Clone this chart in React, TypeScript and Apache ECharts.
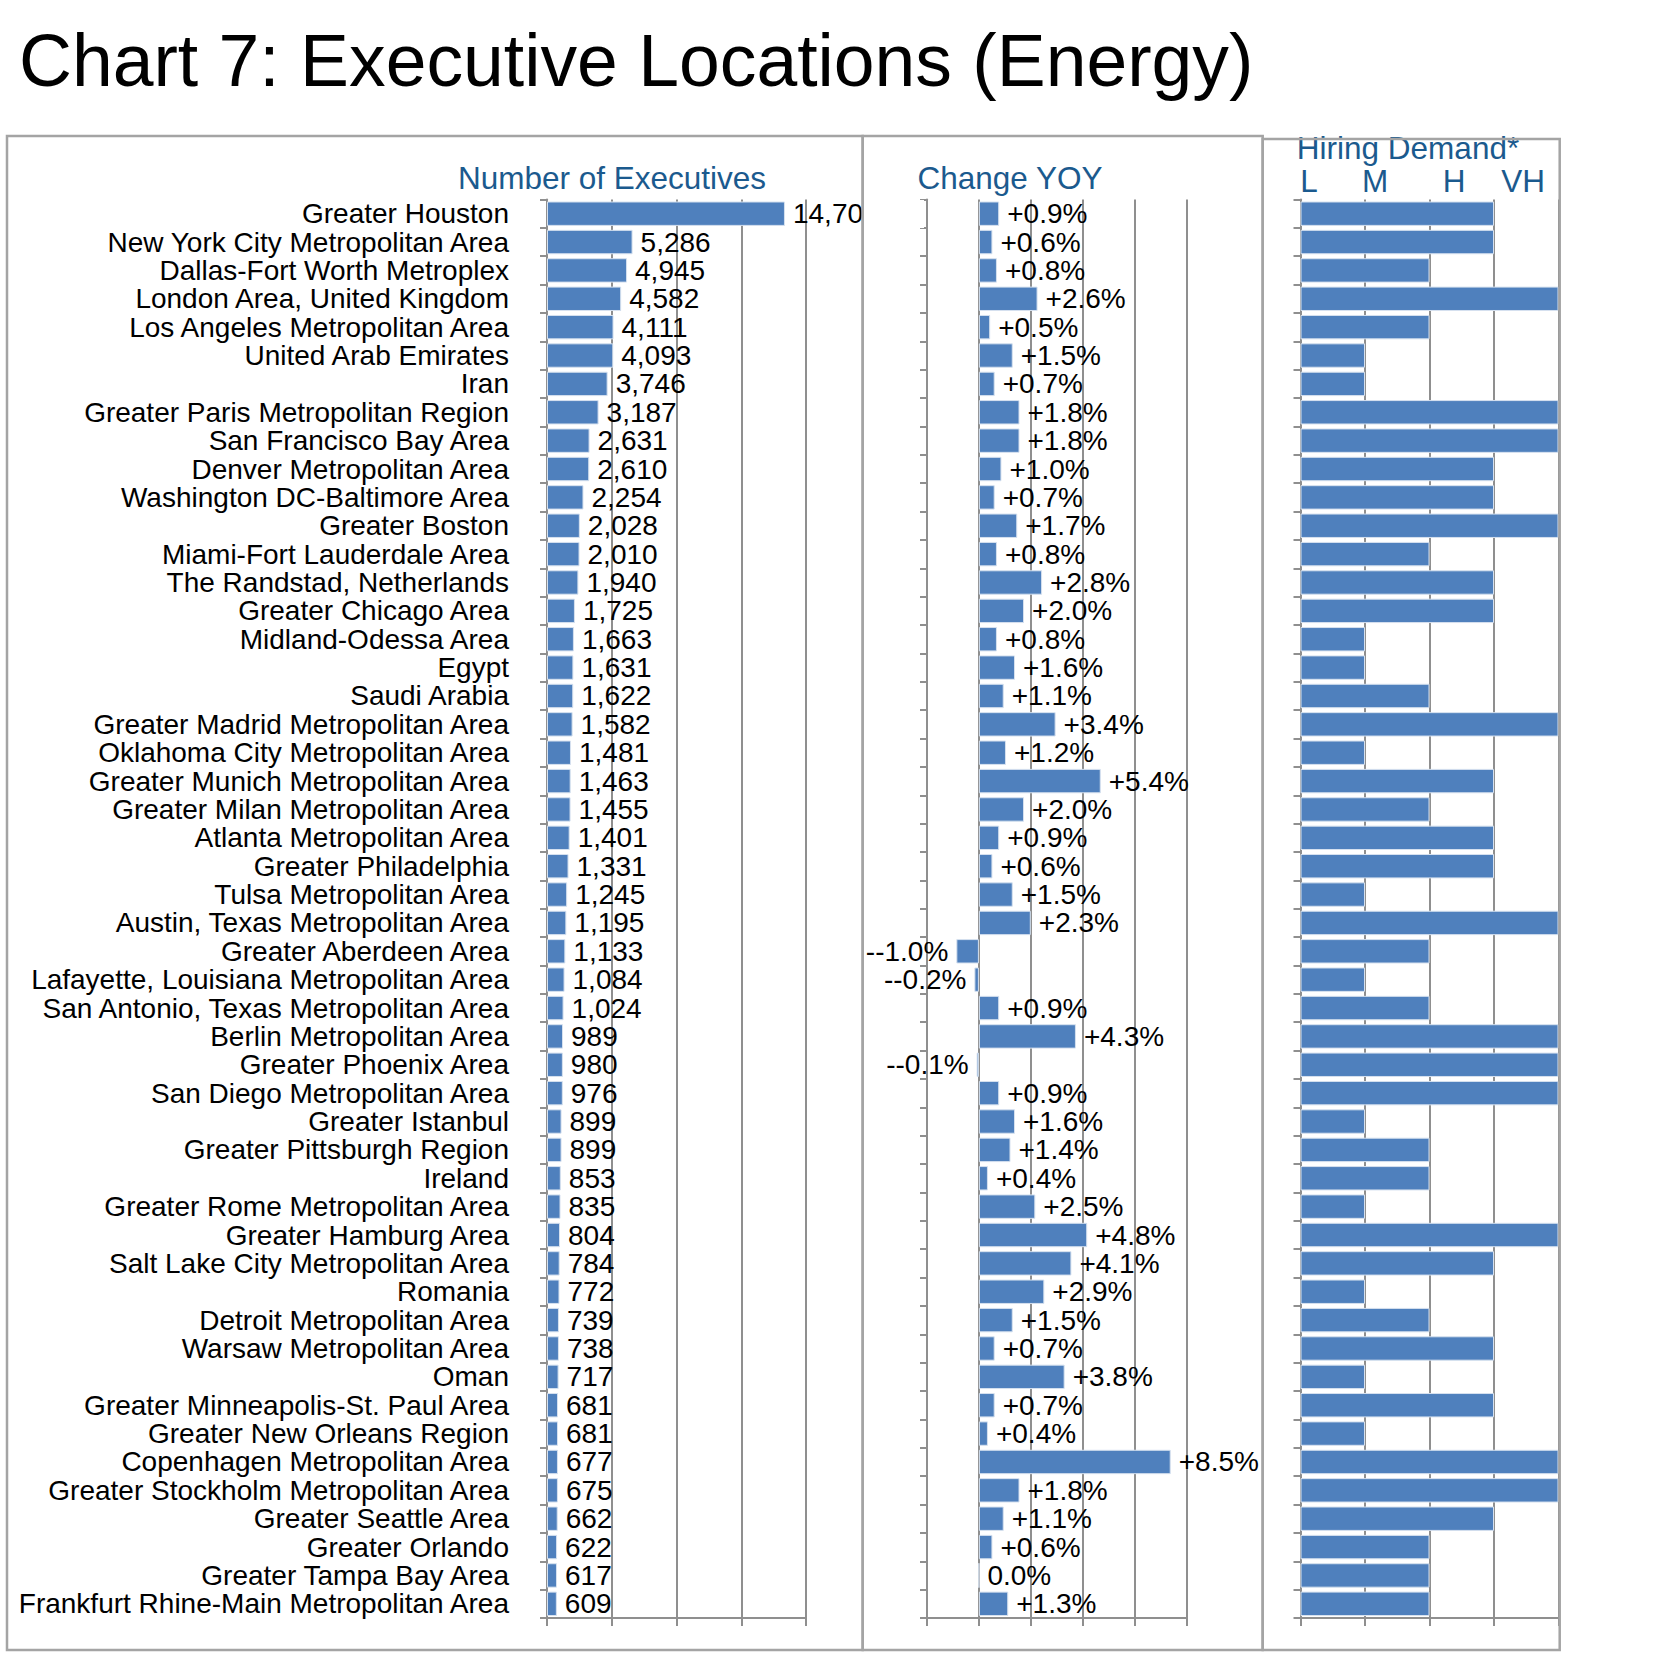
import React, { useEffect, useRef } from 'react';
import * as echarts from 'echarts';

const categories = [
  'Greater Houston',
  'New York City Metropolitan Area',
  'Dallas-Fort Worth Metroplex',
  'London Area, United Kingdom',
  'Los Angeles Metropolitan Area',
  'United Arab Emirates',
  'Iran',
  'Greater Paris Metropolitan Region',
  'San Francisco Bay Area',
  'Denver Metropolitan Area',
  'Washington DC-Baltimore Area',
  'Greater Boston',
  'Miami-Fort Lauderdale Area',
  'The Randstad, Netherlands',
  'Greater Chicago Area',
  'Midland-Odessa Area',
  'Egypt',
  'Saudi Arabia',
  'Greater Madrid Metropolitan Area',
  'Oklahoma City Metropolitan Area',
  'Greater Munich Metropolitan Area',
  'Greater Milan Metropolitan Area',
  'Atlanta Metropolitan Area',
  'Greater Philadelphia',
  'Tulsa Metropolitan Area',
  'Austin, Texas Metropolitan Area',
  'Greater Aberdeen Area',
  'Lafayette, Louisiana Metropolitan Area',
  'San Antonio, Texas Metropolitan Area',
  'Berlin Metropolitan Area',
  'Greater Phoenix Area',
  'San Diego Metropolitan Area',
  'Greater Istanbul',
  'Greater Pittsburgh Region',
  'Ireland',
  'Greater Rome Metropolitan Area',
  'Greater Hamburg Area',
  'Salt Lake City Metropolitan Area',
  'Romania',
  'Detroit Metropolitan Area',
  'Warsaw Metropolitan Area',
  'Oman',
  'Greater Minneapolis-St. Paul Area',
  'Greater New Orleans Region',
  'Copenhagen Metropolitan Area',
  'Greater Stockholm Metropolitan Area',
  'Greater Seattle Area',
  'Greater Orlando',
  'Greater Tampa Bay Area',
  'Frankfurt Rhine-Main Metropolitan Area',
];

const executives = [
  14700, 5286, 4945, 4582, 4111, 4093, 3746, 3187, 2631, 2610,
  2254, 2028, 2010, 1940, 1725, 1663, 1631, 1622, 1582, 1481,
  1463, 1455, 1401, 1331, 1245, 1195, 1133, 1084, 1024, 989,
  980, 976, 899, 899, 853, 835, 804, 784, 772, 739,
  738, 717, 681, 681, 677, 675, 662, 622, 617, 609,
];

const changeYoY = [
  0.9, 0.6, 0.8, 2.6, 0.5, 1.5, 0.7, 1.8, 1.8, 1.0,
  0.7, 1.7, 0.8, 2.8, 2.0, 0.8, 1.6, 1.1, 3.4, 1.2,
  5.4, 2.0, 0.9, 0.6, 1.5, 2.3, -1.0, -0.2, 0.9, 4.3,
  -0.1, 0.9, 1.6, 1.4, 0.4, 2.5, 4.8, 4.1, 2.9, 1.5,
  0.7, 3.8, 0.7, 0.4, 8.5, 1.8, 1.1, 0.6, 0.0, 1.3,
];

// 1 = L, 2 = M, 3 = H, 4 = VH
const hiringDemand = [
  3, 3, 2, 4, 2, 1, 1, 4, 4, 3,
  3, 4, 2, 3, 3, 1, 1, 2, 4, 1,
  3, 2, 3, 3, 1, 4, 2, 1, 2, 4,
  4, 4, 1, 2, 2, 1, 4, 3, 1, 2,
  3, 1, 3, 1, 4, 4, 3, 2, 2, 2,
];

const demandLevels = ['L', 'M', 'H', 'VH'];
const demandLabelX = [1309, 1375, 1454, 1523];

const titleText = 'Chart 7: Executive Locations (Energy)';
const panelTitles = ['Number of Executives', 'Change YOY', 'Hiring Demand*'];

const FONT = '"Liberation Sans", Arial, Helvetica, sans-serif';
const BAR = '#4f80bd';
const BAR_BORDER = '#d6e1ef';
const GRAY = '#8f8f8f';
const FRAME = '#a4a4a4';
const HEAD = '#1b5a8e';
const TOP = 199.5;
const HEIGHT = 1418.5;

const fmtChange = (v: number) =>
  v > 0 ? '+' + v.toFixed(1) + '%' : v < 0 ? '--' + Math.abs(v).toFixed(1) + '%' : '0.0%';

function valueAxis(gridIndex: number, min: number, max: number, interval: number) {
  return {
    type: 'value',
    gridIndex,
    min,
    max,
    interval,
    axisLabel: { show: false },
    axisLine: { show: true, onZero: false, lineStyle: { color: GRAY, width: 2 } },
    axisTick: { show: true, length: 8, lineStyle: { color: GRAY, width: 2 } },
    splitLine: { show: true, lineStyle: { color: GRAY, width: 2 } },
  };
}

function categoryAxis(gridIndex: number, showLabels: boolean) {
  return {
    type: 'category',
    gridIndex,
    data: categories,
    inverse: true,
    axisLine: { show: true, onZero: false, lineStyle: { color: GRAY, width: 2 } },
    axisTick: { show: true, length: 7, alignWithLabel: false, interval: 0, lineStyle: { color: GRAY, width: 2 } },
    axisLabel: {
      show: showLabels,
      interval: 0,
      margin: 38,
      fontSize: 28,
      lineHeight: 26,
      color: '#000',
      fontFamily: FONT,
    },
    splitLine: { show: false },
  };
}

const barStyle = { color: BAR, borderColor: BAR_BORDER, borderWidth: 1 };

export default function App() {
  const ref = useRef<HTMLDivElement>(null);

  useEffect(() => {
    if (!ref.current) return;
    const chart = echarts.init(ref.current, null, { renderer: 'svg' });

    const headStyle = (text: string) => ({
      text,
      fontSize: 31.5,
      lineHeight: 24,
      fontFamily: FONT,
      fill: HEAD,
      align: 'center',
      verticalAlign: 'middle',
    });

    const valueLabel = {
      show: true,
      position: 'right',
      distance: 8,
      fontSize: 28,
      lineHeight: 26,
      color: '#000',
      fontFamily: FONT,
    };

    const option: any = {
      animation: false,
      backgroundColor: '#ffffff',
      textStyle: { fontFamily: FONT },
      grid: [
        { left: 547, top: TOP, width: 259, height: HEIGHT },
        { left: 927, top: TOP, width: 259.5, height: HEIGHT },
        { left: 1300.5, top: TOP, width: 258, height: HEIGHT },
      ],
      xAxis: [
        valueAxis(0, 0, 16000, 4000),
        valueAxis(1, -2.3, 9.2, 2.3),
        valueAxis(2, 0, 4, 1),
      ],
      yAxis: [categoryAxis(0, true), categoryAxis(1, false), categoryAxis(2, false)],
      series: [
        {
          type: 'bar',
          xAxisIndex: 0,
          yAxisIndex: 0,
          data: executives,
          barCategoryGap: '14%',
          itemStyle: barStyle,
          label: {
            ...valueLabel,
            formatter: (p: any) => Number(p.value).toLocaleString('en-US'),
          },
        },
        {
          type: 'bar',
          xAxisIndex: 1,
          yAxisIndex: 1,
          data: changeYoY.map((v) => ({
            value: v,
            label: { position: v < 0 ? 'left' : 'right' },
          })),
          barCategoryGap: '14%',
          itemStyle: barStyle,
          label: {
            ...valueLabel,
            formatter: (p: any) => fmtChange(Number(p.value)),
          },
        },
        {
          type: 'bar',
          xAxisIndex: 2,
          yAxisIndex: 2,
          data: hiringDemand,
          barCategoryGap: '14%',
          itemStyle: barStyle,
          label: { show: false },
        },
      ],
      graphic: [
        {
          type: 'text',
          x: 19,
          y: 61,
          style: {
            text: titleText,
            fontSize: 73.3,
            fontFamily: FONT,
            fill: '#000',
            align: 'left',
            verticalAlign: 'middle',
          },
        },
        { type: 'text', x: 612, y: 178, style: headStyle(panelTitles[0]) },
        { type: 'text', x: 1010, y: 178, style: headStyle(panelTitles[1]) },
        { type: 'text', x: 1408, y: 147.5, style: headStyle(panelTitles[2]) },
        ...demandLevels.map((lvl, i) => ({
          type: 'text',
          x: demandLabelX[i],
          y: 181,
          style: headStyle(lvl),
        })),
        {
          type: 'rect',
          z: 100,
          shape: { x: 864, y: 200, width: 60, height: 28 },
          style: { fill: '#ffffff' },
        },
        {
          type: 'rect',
          z: 101,
          shape: { x: 7, y: 136, width: 855.7, height: 1514 },
          style: { fill: 'none', stroke: FRAME, lineWidth: 2.5 },
        },
        {
          type: 'rect',
          z: 101,
          shape: { x: 862.7, y: 136, width: 400, height: 1514 },
          style: { fill: 'none', stroke: FRAME, lineWidth: 2.5 },
        },
        {
          type: 'rect',
          z: 101,
          shape: { x: 1262.7, y: 139, width: 297, height: 1511 },
          style: { fill: 'none', stroke: FRAME, lineWidth: 2.5 },
        },
      ],
    };

    chart.setOption(option);
    return () => chart.dispose();
  }, []);

  return (
    <div
      ref={ref}
      style={{ position: 'absolute', left: 0, top: 0, width: 1664, height: 1661, background: '#fff' }}
    />
  );
}
